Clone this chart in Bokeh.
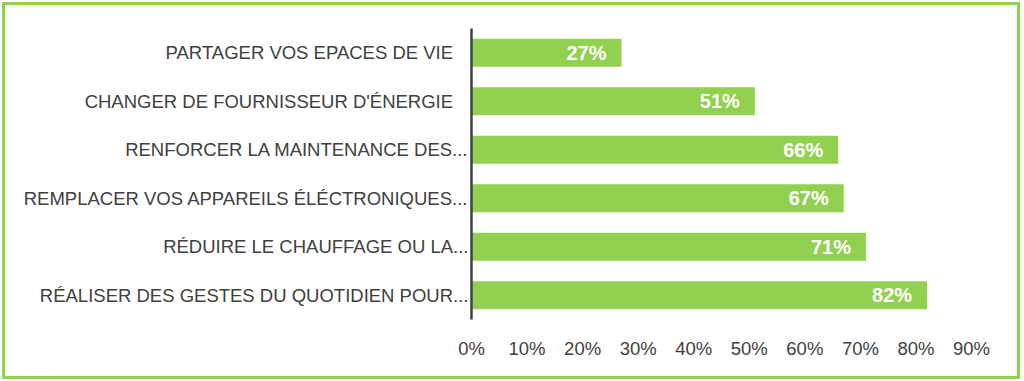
from bokeh.plotting import figure
from bokeh.models import Range1d, FactorRange, FixedTicker, NumeralTickFormatter, ColumnDataSource
from bokeh.core.properties import value
from bokeh.embed import file_html
from bokeh.resources import INLINE

# Data (top to bottom as displayed)
categories = [
    "PARTAGER VOS EPACES DE VIE\u00a0\u00a0\u00a0",
    "CHANGER DE FOURNISSEUR D'ÉNERGIE\u00a0\u00a0\u00a0",
    "RENFORCER LA MAINTENANCE DES...",
    "REMPLACER VOS APPAREILS ÉLÉCTRONIQUES...",
    "RÉDUIRE LE CHAUFFAGE OU LA...",
    "RÉALISER DES GESTES DU QUOTIDIEN POUR...",
]
values = [0.27, 0.51, 0.66, 0.67, 0.71, 0.82]
value_labels = ["27%", "51%", "66%", "67%", "71%", "82%"]
x_ticks = [0, 0.1, 0.2, 0.3, 0.4, 0.5, 0.6, 0.7, 0.8, 0.9]

GREEN = "#92D050"
TEXT = "#404040"
FONT = "Liberation Sans"

W, H = 1018, 377

src = ColumnDataSource(dict(cat=categories, val=values, lab=value_labels))

p = figure(
    width=W, height=H,
    y_range=FactorRange(*reversed(categories)),
    x_range=Range1d(0, 0.9),
    output_backend="svg", toolbar_location=None,
    min_border_left=466, min_border_right=52,
    min_border_top=23, min_border_bottom=63,
)
p.styles = {"border": f"3px solid {GREEN}", "margin": "2px 0 0 2px"}
p.outline_line_color = None
p.grid.visible = False
p.background_fill_color = "white"
p.border_fill_color = "white"

p.hbar(y="cat", left=0, right="val", height=0.58, source=src,
       fill_color=GREEN, line_color=None)

p.text(x="val", y="cat", text="lab", source=src, x_offset=-15,
       text_align="right", text_baseline="middle",
       text_color="white", text_font=value(FONT),
       text_font_size="20px", text_font_style="bold")

# y axis
ya = p.yaxis[0]
ya.axis_line_color = TEXT
ya.axis_line_width = 2.5
ya.major_tick_line_color = None
ya.minor_tick_line_color = None
ya.major_label_text_font = FONT
ya.major_label_text_font_size = "18.5px"
ya.major_label_text_color = TEXT
ya.major_label_standoff = -3

# x axis
xa = p.xaxis[0]
xa.axis_line_color = None
xa.major_tick_line_color = None
xa.minor_tick_line_color = None
xa.ticker = FixedTicker(ticks=x_ticks)
xa.formatter = NumeralTickFormatter(format="0%")
xa.major_label_text_font = FONT
xa.major_label_text_font_size = "18.5px"
xa.major_label_text_color = TEXT
xa.major_label_standoff = 12

open("out.html", "w").write(file_html(p, INLINE))
